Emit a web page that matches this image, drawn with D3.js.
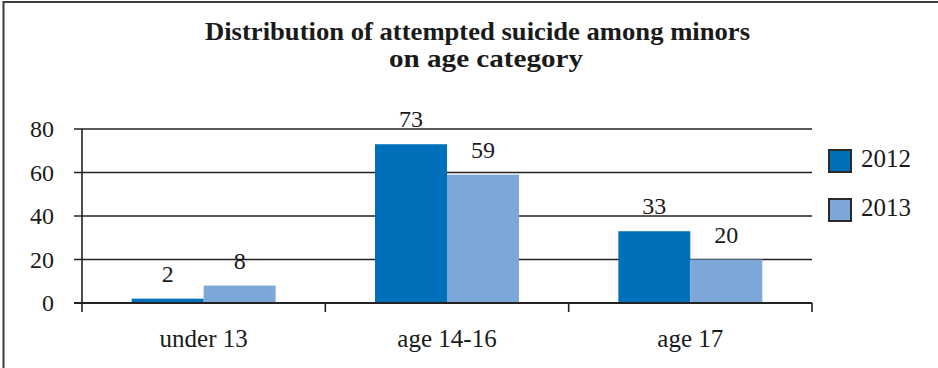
<!DOCTYPE html>
<html><head><meta charset="utf-8">
<script src="https://cdn.jsdelivr.net/npm/d3@7"></script>
<style>body{margin:0;background:#fff}svg{display:block}text{font-family:"Liberation Serif","Times New Roman",serif}</style>
</head><body><svg id="c" width="938" height="368"></svg>
<script>
const categories = ["under 13", "age 14-16", "age 17"];
const seriesNames = ["2012", "2013"];
const values2012 = [2, 73, 33];
const values2013 = [8, 59, 20];
const yTicks = [0, 20, 40, 60, 80];
const titleLines = ["Distribution of attempted suicide among minors", "on age category"];
const colors = ["#0070bb", "#7da7d9"];

const svg = d3.select("#c");
const m = {left: 82, right: 812, top: 129, bottom: 303};

// frame (left + top)
svg.append("line").attr("x1",3.5).attr("x2",3.5).attr("y1",1).attr("y2",368).attr("stroke","#3a3a3a").attr("stroke-width",2);
svg.append("line").attr("x1",3).attr("x2",938).attr("y1",2).attr("y2",2).attr("stroke","#3a3a3a").attr("stroke-width",2);

// title
const tx = [205, 389], ty = [40, 67], tw = [545, 194];
titleLines.forEach((t,i)=>{
  svg.append("text").attr("x",tx[i]).attr("y",ty[i])
    .style("font-weight","bold").style("font-size","26px")
    .attr("textLength",tw[i]).attr("lengthAdjust","spacingAndGlyphs")
    .attr("fill","#1a1a1a").text(t);
});

const x0 = d3.scaleBand().domain(categories).range([m.left, m.right]).paddingInner(0).paddingOuter(0);
const x1 = d3.scaleBand().domain(seriesNames).range([0, x0.bandwidth()]).paddingInner(0).paddingOuter(0.69);
const y = d3.scaleLinear().domain([0, 80]).range([m.bottom, m.top]);

// gridlines
yTicks.forEach(t=>{
  svg.append("line").attr("x1",74).attr("x2",m.right).attr("y1",y(t)).attr("y2",y(t))
   .attr("stroke","#222").attr("stroke-width",t===0?2.2:1.6);
  svg.append("text").attr("x",54).attr("y",y(t)+8).attr("text-anchor","end")
   .style("font-size","24px").attr("fill","#1a1a1a").text(t);
});
svg.append("line").attr("x1",m.left).attr("x2",m.left).attr("y1",m.top).attr("y2",312).attr("stroke","#222").attr("stroke-width",1.6);
categories.forEach(c=>{
  const b = x0(c)+x0.bandwidth();
  svg.append("line").attr("x1",b).attr("x2",b).attr("y1",m.bottom).attr("y2",312).attr("stroke","#222").attr("stroke-width",1.6);
});

// bars
const series = [values2012, values2013];
series.forEach((vals,si)=>{
  const gg = svg.append("g");
  gg.selectAll("rect").data(vals).join("rect")
    .attr("x",(d,i)=>x0(categories[i])+x1(seriesNames[si]))
    .attr("width",x1.bandwidth())
    .attr("y",d=>y(d)).attr("height",d=>y(0)-y(d)-1)
    .attr("fill",colors[si]);
  gg.selectAll("text").data(vals).join("text")
    .attr("x",(d,i)=>x0(categories[i])+x1(seriesNames[si])+x1.bandwidth()/2)
    .attr("y",d=>y(d)-17).attr("text-anchor","middle")
    .style("font-size","24px").attr("fill","#1a1a1a").text(d=>d);
});

// category labels
categories.forEach(c=>{
  svg.append("text").attr("x",x0(c)+x0.bandwidth()/2).attr("y",347).attr("text-anchor","middle")
    .style("font-size","25px").attr("fill","#1a1a1a").text(c);
});

// legend
seriesNames.forEach((s,i)=>{
  const ly = 150 + i*49;
  svg.append("rect").attr("x",829).attr("y",ly).attr("width",22).attr("height",22)
    .attr("fill",colors[i]).attr("stroke","#2a2a2a").attr("stroke-width",2);
  svg.append("text").attr("x",861).attr("y",ly+17).style("font-size","25px")
    .attr("fill","#1a1a1a").text(s);
});
</script></body></html>
